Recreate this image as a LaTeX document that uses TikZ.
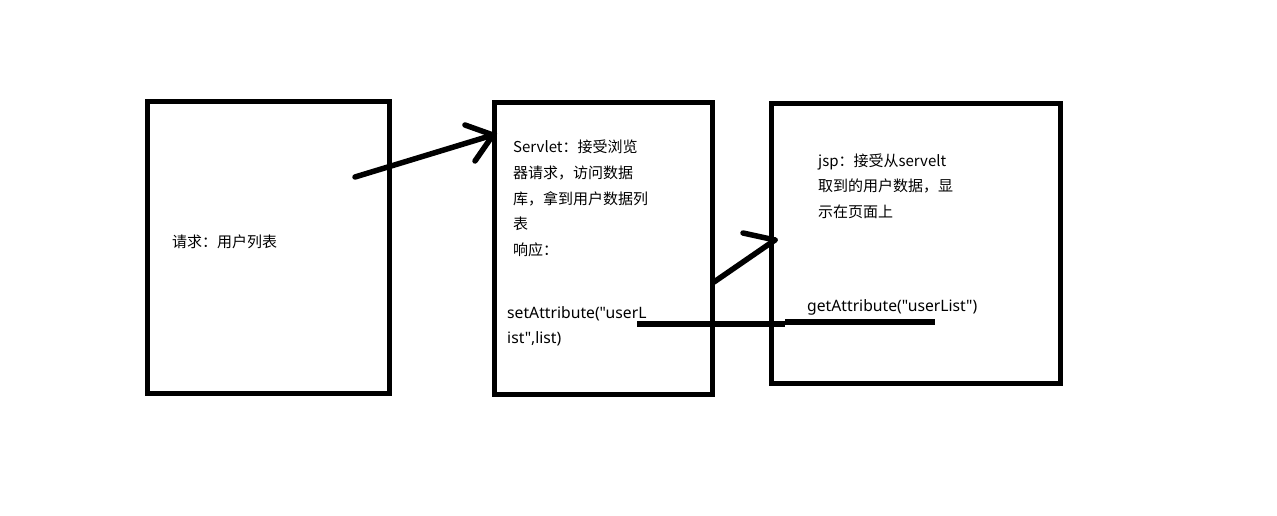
\documentclass[tikz,border=0pt]{standalone}
\usepackage{fontspec}
\newfontfamily\cjkfont{Noto Sans CJK SC}
\newfontfamily\codefont{Noto Sans}
\begin{document}
\begin{tikzpicture}[x=1pt,y=-1pt,
  box/.style={draw=black,line width=5pt},
  stroke/.style={draw=black,line width=5.5pt,line cap=round},
  cjktext/.style={inner sep=0pt,anchor=base west,align=left,font=\cjkfont\fontsize{15}{25.7}\selectfont},
  codetext/.style={inner sep=0pt,anchor=base west,align=left,font=\codefont\fontsize{15.7}{25}\selectfont}]
\useasboundingbox[fill=white] (0,0) rectangle (1277,516);
% boxes
\draw[box] (147,102) rectangle (389,393);
\draw[box] (494,103) rectangle (712,394);
\draw[box] (771,104) rectangle (1060,383);
% coordinates
\coordinate (a1s) at (355,177);
\coordinate (a1t) at (493,135);
\coordinate (a1b1) at (465,125);
\coordinate (a1b2) at (475,161);
\coordinate (a2s) at (714,282);
\coordinate (a2t) at (775,240);
\coordinate (a2b1) at (743,233);
\coordinate (l1) at (637,324);
\coordinate (l2) at (785,324);
\coordinate (l3) at (785,322);
\coordinate (l4) at (935,322);
% arrows
\draw[stroke] (a1s) -- (a1t);
\draw[stroke] (a1b1) -- (a1t) -- (a1b2);
\draw[stroke] (a2s) -- (a2t);
\draw[stroke] (a2b1) -- (a2t);
\draw[stroke,line cap=butt] (l1) -- (l2);
\draw[stroke,line cap=butt] (l3) -- (l4);
% texts (anchored at the baseline of the last line)
\node[cjktext] (req) at (172,247.5) {请求：用户列表};
\node[cjktext] (srv) at (513,255.5) {Servlet：接受浏览\\器请求，访问数据\\库，拿到用户数据列\\表\\响应：};
\node[codetext] (set) at (507,343) {setAttribute("userL\\ist",list)};
\node[cjktext] (jsp) at (818,217.5) {jsp：接受从servelt\\取到的用户数据，显\\示在页面上};
\node[codetext] (get) at (807,311) {getAttribute("userList")};
\end{tikzpicture}
\end{document}
